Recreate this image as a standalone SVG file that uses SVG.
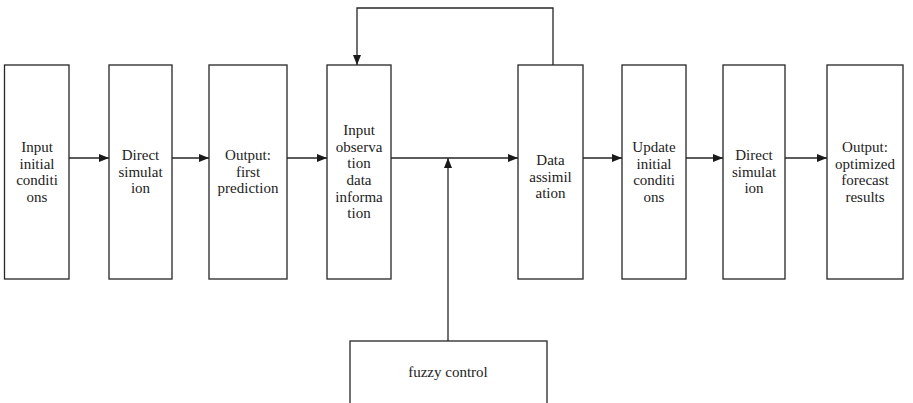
<svg xmlns="http://www.w3.org/2000/svg" width="913" height="403" viewBox="0 0 913 403">
<style>
.b{fill:#fff;stroke:#262626;stroke-width:1.3}
.c{fill:none;stroke:#262626;stroke-width:1.3}
text{font-family:"Liberation Serif","Times New Roman",serif;font-size:15px;fill:#222;text-anchor:middle}
</style>
<defs>
<marker id="ah" viewBox="0 0 10 8" refX="10" refY="4" markerWidth="10" markerHeight="8" markerUnits="userSpaceOnUse" orient="auto">
<path d="M0,0 L10,4 L0,8 Z" fill="#1a1a1a"/>
</marker>
</defs>
<rect width="913" height="403" fill="#fff"/>
<g id="n1"><rect class="b" x="4.5" y="65" width="64.5" height="214"/>
<text x="37" y="152">Input</text><text x="37" y="168.7">initial</text><text x="37" y="185.4">conditi</text><text x="37" y="202.1">ons</text></g>
<g id="n2"><rect class="b" x="109" y="65" width="63" height="214"/>
<text x="140.5" y="159.8">Direct</text><text x="140.5" y="176.5">simulat</text><text x="140.5" y="193.2">ion</text></g>
<g id="n3"><rect class="b" x="209" y="65" width="78" height="214"/>
<text x="248" y="159.8">Output:</text><text x="248" y="176.5">first</text><text x="248" y="193.2">prediction</text></g>
<g id="n4"><rect class="b" x="327" y="65" width="64" height="214"/>
<text x="359" y="134.8">Input</text><text x="359" y="151.5">observa</text><text x="359" y="168.2">tion</text><text x="359" y="184.9">data</text><text x="359" y="201.6">informa</text><text x="359" y="218.3">tion</text></g>
<g id="n5"><rect class="b" x="518" y="65" width="65" height="214"/>
<text x="550.5" y="164.8">Data</text><text x="550.5" y="181.5">assimil</text><text x="550.5" y="198.2">ation</text></g>
<g id="n6"><rect class="b" x="622" y="65" width="64" height="214"/>
<text x="654" y="152">Update</text><text x="654" y="168.7">initial</text><text x="654" y="185.4">conditi</text><text x="654" y="202.1">ons</text></g>
<g id="n7"><rect class="b" x="723" y="65" width="62" height="214"/>
<text x="754" y="159.8">Direct</text><text x="754" y="176.5">simulat</text><text x="754" y="193.2">ion</text></g>
<g id="n8"><rect class="b" x="827" y="65" width="76" height="214"/>
<text x="865" y="152">Output:</text><text x="865" y="168.7">optimized</text><text x="865" y="185.4">forecast</text><text x="865" y="202.1">results</text></g>
<g id="n9"><rect class="b" x="350" y="341" width="197" height="70"/>
<text x="448" y="377">fuzzy control</text></g>
<g id="connectors">
<line class="c" x1="69" y1="158" x2="109" y2="158" marker-end="url(#ah)"/>
<line class="c" x1="172" y1="158" x2="209" y2="158" marker-end="url(#ah)"/>
<line class="c" x1="287" y1="158" x2="327" y2="158" marker-end="url(#ah)"/>
<line class="c" x1="391" y1="158" x2="518" y2="158" marker-end="url(#ah)"/>
<line class="c" x1="583" y1="158" x2="622" y2="158" marker-end="url(#ah)"/>
<line class="c" x1="686" y1="158" x2="723" y2="158" marker-end="url(#ah)"/>
<line class="c" x1="785" y1="158" x2="827" y2="158" marker-end="url(#ah)"/>
<polyline class="c" points="553,65 553,8 357,8 357,65" marker-end="url(#ah)"/>
<line class="c" x1="448" y1="341" x2="448" y2="158" marker-end="url(#ah)"/>
</g>
</svg>
